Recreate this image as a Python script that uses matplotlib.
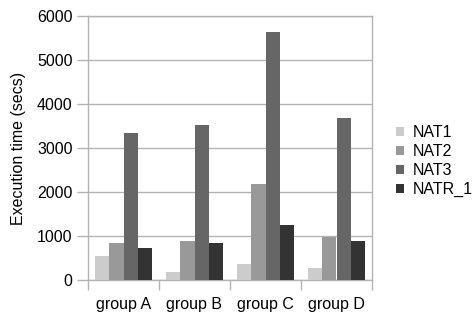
import matplotlib.pyplot as plt
import numpy as np

groups = ['group A', 'group B', 'group C', 'group D']
series = ['NAT1', 'NAT2', 'NAT3', 'NATR_1']
nat1 = [550, 180, 365, 265]
nat2 = [840, 885, 2180, 975]
nat3 = [3330, 3520, 5630, 3680]
natr_1 = [720, 850, 1250, 885]
colors = ['#cccccc', '#999999', '#666666', '#333333']

plt.rcParams['font.family'] = ['Liberation Sans', 'DejaVu Sans']
fs = 11.5

fig = plt.figure(figsize=(4.76, 3.17), dpi=100)
ax = fig.add_axes([88 / 476, 37 / 317, 284 / 476, 264 / 317])

x = np.arange(len(groups))
w = 0.2
for i, (name, vals) in enumerate(zip(series, [nat1, nat2, nat3, natr_1])):
    ax.bar(x + (i - 1.5) * w, vals, width=w, color=colors[i], label=name, zorder=3)

grid_c = '#b3b3b3'
ax.set_xlim(-0.5, 3.5)
ax.set_ylim(0, 6000)
ax.set_yticks(range(0, 6001, 1000))
ax.yaxis.grid(True, color=grid_c, linewidth=1, zorder=0)
ax.set_xticks(x)
ax.set_xticklabels(groups)
ax.set_xticks(np.arange(-0.5, 4, 1), minor=True)
ax.tick_params(axis='x', which='major', length=0, pad=12, labelsize=fs)
ax.tick_params(axis='x', which='minor', length=7, color=grid_c, width=1)
ax.tick_params(axis='y', length=8, color=grid_c, width=1, pad=3, labelsize=fs)
for s in ax.spines.values():
    s.set_color(grid_c)
    s.set_linewidth(1)

ax.set_ylabel('Execution time (secs)', fontsize=fs, labelpad=8)

ax.legend(loc='center left', bbox_to_anchor=(1.063, 0.45), frameon=False,
          fontsize=fs, handlelength=0.5, handleheight=0.5, handletextpad=0.5,
          labelspacing=0.25, borderaxespad=0)

fig.savefig('out.png', dpi=100)
